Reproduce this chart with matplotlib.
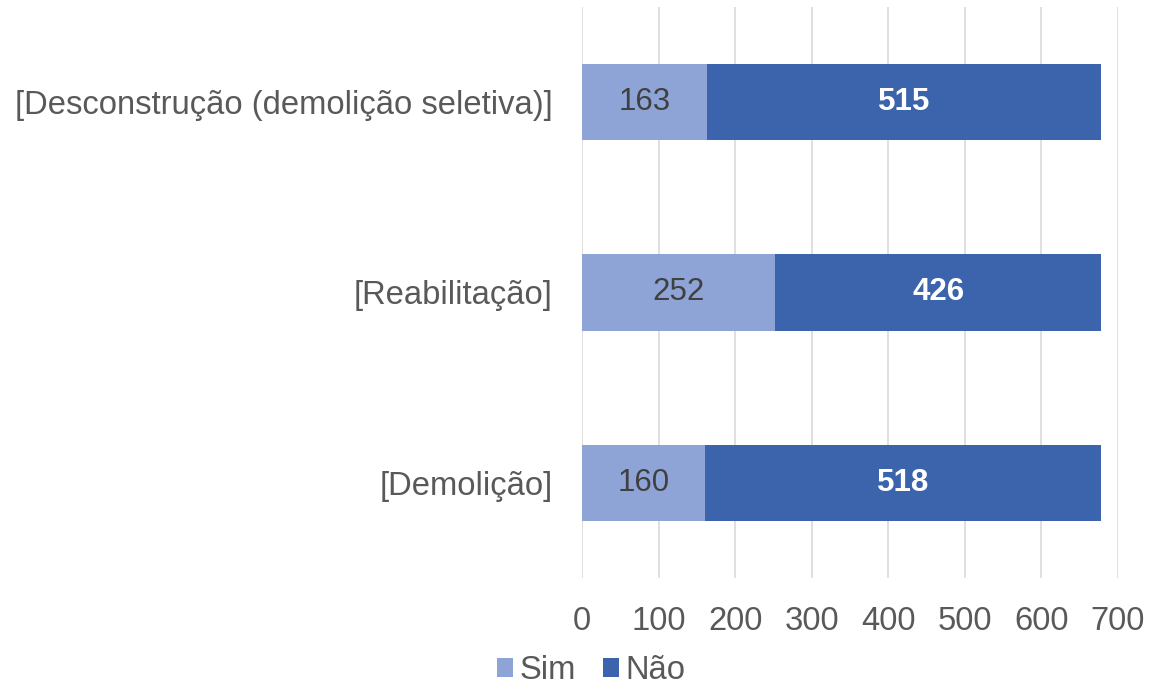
import matplotlib.pyplot as plt
import numpy as np

plt.rcParams['font.family'] = ['Liberation Sans', 'DejaVu Sans']

categorias = ['[Demolição]', '[Reabilitação]', '[Desconstrução (demolição seletiva)]']
sim = [160, 252, 163]
nao = [518, 426, 515]

cor_sim = '#8EA4D6'
cor_nao = '#3B64AD'

fig = plt.figure(figsize=(11.64, 6.91), dpi=100)
ax = fig.add_axes([0.5, 0.1635, 0.4605, 0.8265])

y = np.arange(len(categorias))
b1 = ax.barh(y, sim, height=0.4, color=cor_sim, label='Sim', zorder=2)
b2 = ax.barh(y, nao, left=sim, height=0.4, color=cor_nao, label='Não', zorder=2)

ax.bar_label(b1, labels=[str(v) for v in sim], label_type='center', fontsize=22.5, color='#404040')
ax.bar_label(b2, labels=[str(v) for v in nao], label_type='center', fontsize=22.5, color='white', fontweight='bold')

ax.set_xlim(0, 700)
ax.set_ylim(-0.5, 2.5)
ax.set_xticks(range(0, 701, 100))
ax.set_yticks(y)
ax.set_yticklabels(categorias)
ax.xaxis.grid(True, color='#D9D9D9', linewidth=1.2, zorder=0)
ax.tick_params(axis='both', length=0, labelsize=23.6, colors='#595959')
ax.tick_params(axis='y', pad=21)
ax.tick_params(axis='x', pad=20)
for s in ax.spines.values():
    s.set_visible(False)

fig.legend(handles=[b1, b2], loc='lower center', bbox_to_anchor=(0.508, -0.036), ncol=2,
           frameon=False, fontsize=23.6, labelcolor='#595959', handlelength=0.5, handleheight=0.5,
           handletextpad=0.2, columnspacing=0.8)

plt.savefig('out.png')
